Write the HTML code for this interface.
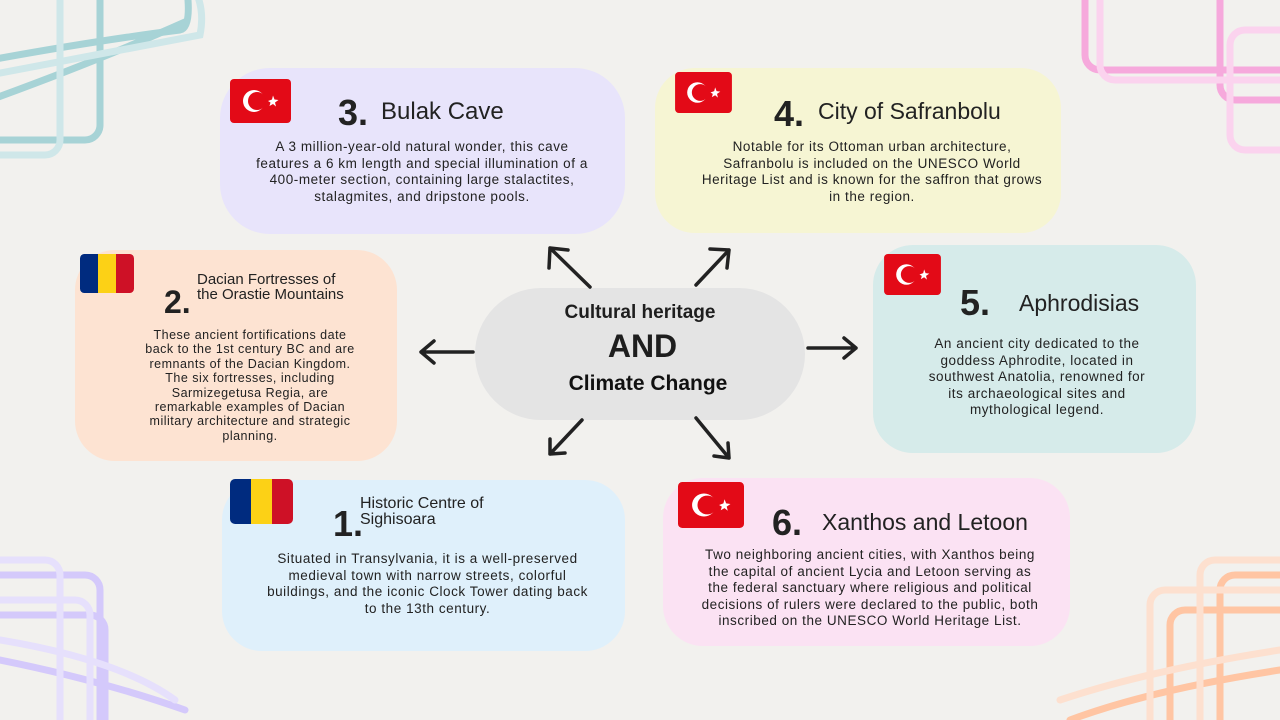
<!DOCTYPE html>
<html><head><meta charset="utf-8"><style>
*{margin:0;padding:0;box-sizing:border-box}
body{width:1280px;height:720px;overflow:hidden;background:#f2f1ee;font-family:"Liberation Sans",sans-serif;color:#222;position:relative}
.card{position:absolute;border-radius:40px}
.t{position:absolute;text-align:center;font-size:13.5px;line-height:16.6px;color:#222;white-space:nowrap;letter-spacing:0.55px}
.h{position:absolute;font-size:23px;color:#222;white-space:nowrap}
.n{position:absolute;font-size:36px;font-weight:bold;color:#222}
svg.f{position:absolute}
</style></head><body>
<svg width="1280" height="720" style="position:absolute;left:0;top:0" fill="none" stroke-linecap="round">
 <g stroke="#a7d3d6" stroke-width="7">
  <path d="M-10 60 Q100 40 180 30 Q190 28 188 0"/><path d="M-10 100 Q100 60 185 22"/>
  <rect x="-40" y="-30" width="140" height="170" rx="15"/>
 </g>
 <g stroke="#cfe7e9" stroke-width="7">
  <path d="M-10 75 Q120 50 200 35 Q205 10 195 -10"/><rect x="-30" y="-20" width="90" height="175" rx="15"/>
 </g>
 <g stroke="#f6a9dc" stroke-width="7">
  <rect x="1085" y="-30" width="230" height="100" rx="15"/><rect x="1220" y="-20" width="80" height="120" rx="15"/>
 </g>
 <g stroke="#fbd3ee" stroke-width="7">
  <rect x="1100" y="-20" width="220" height="100" rx="15"/><rect x="1230" y="30" width="80" height="120" rx="15"/>
 </g>
 <g stroke="#d4c9fb" stroke-width="7">
  <rect x="-30" y="575" width="130" height="160" rx="15"/><rect x="-30" y="615" width="135" height="130" rx="15"/>
  <path d="M0 660 Q100 680 185 710"/>
 </g>
 <g stroke="#e6e0fc" stroke-width="7">
  <rect x="-20" y="560" width="80" height="180" rx="15"/><path d="M0 640 Q120 660 175 700"/><rect x="-30" y="600" width="120" height="140" rx="15"/>
 </g>
 <g stroke="#ffc5a3" stroke-width="7">
  <rect x="1220" y="575" width="90" height="160" rx="15"/><rect x="1170" y="610" width="140" height="130" rx="15"/>
  <path d="M1070 720 Q1150 690 1280 670"/>
 </g>
 <g stroke="#fde0cf" stroke-width="7">
  <rect x="1200" y="560" width="100" height="180" rx="15"/><rect x="1150" y="590" width="150" height="150" rx="15"/><path d="M1060 700 Q1150 670 1280 650"/>
 </g>
</svg>

<div class="card" style="left:220px;top:68px;width:405px;height:166px;background:#e8e4fb;border-radius:50px"></div>
<div class="card" style="left:655px;top:68px;width:406px;height:165px;background:#f6f5d3"></div>
<div class="card" style="left:75px;top:250px;width:322px;height:211px;background:#fde3d2"></div>
<div class="card" style="left:873px;top:245px;width:323px;height:208px;background:#d6ebea"></div>
<div class="card" style="left:222px;top:480px;width:403px;height:171px;background:#dff0fb"></div>
<div class="card" style="left:663px;top:478px;width:407px;height:168px;background:#fbe2f3"></div>

<div style="position:absolute;left:475px;top:288px;width:330px;height:132px;background:#e4e4e4;border-radius:66px"></div>
<div style="position:absolute;left:475px;top:302px;width:330px;text-align:center;font-weight:bold;font-size:19px;color:#1e1e1e">Cultural heritage</div>
<div style="position:absolute;left:475px;top:328px;width:335px;text-align:center;font-weight:bold;font-size:32px;color:#1e1e1e">AND</div>
<div style="position:absolute;left:483px;top:372px;width:330px;text-align:center;font-weight:bold;font-size:21px;color:#111">Climate Change</div>

<svg width="1280" height="720" style="position:absolute;left:0;top:0" fill="none" stroke="#222" stroke-width="3.5" stroke-linecap="round" stroke-linejoin="round">
 <path d="M590 287 L550 248 M549 268 L550 248 L568 250"/>
 <path d="M696 285 L729 250 M710 249 L729 250 L727 268"/>
 <path d="M473 352 L421 352 M434 341 L421 352 L434 363"/>
 <path d="M808 348 L856 348 M844 338 L856 348 L844 358"/>
 <path d="M582 420 L550 454 M550 439 L550 454 L565 453"/>
 <path d="M696 418 L729 458 M728 443 L729 458 L714 456"/>
</svg>

<svg class="f" style="left:230px;top:79px" width="61" height="44" viewBox="0 0 61 44"><rect width="61" height="44" rx="4" fill="#e30a17"/><circle cx="24" cy="22" r="11" fill="#fff"/><circle cx="27" cy="22" r="9" fill="#e30a17"/><polygon points="38,22 42,20.5 43,16.5 44.5,20.5 48.5,21 45,23.5 46,27.5 43,25 39.5,27 40.5,23.5" fill="#fff"/></svg>
<svg class="f" style="left:675px;top:72px" width="57" height="41" viewBox="0 0 61 44"><rect width="61" height="44" rx="4" fill="#e30a17"/><circle cx="24" cy="22" r="11" fill="#fff"/><circle cx="27" cy="22" r="9" fill="#e30a17"/><polygon points="38,22 42,20.5 43,16.5 44.5,20.5 48.5,21 45,23.5 46,27.5 43,25 39.5,27 40.5,23.5" fill="#fff"/></svg>
<svg class="f" style="left:884px;top:254px" width="57" height="41" viewBox="0 0 61 44"><rect width="61" height="44" rx="4" fill="#e30a17"/><circle cx="24" cy="22" r="11" fill="#fff"/><circle cx="27" cy="22" r="9" fill="#e30a17"/><polygon points="38,22 42,20.5 43,16.5 44.5,20.5 48.5,21 45,23.5 46,27.5 43,25 39.5,27 40.5,23.5" fill="#fff"/></svg>
<svg class="f" style="left:678px;top:482px" width="66" height="46" viewBox="0 0 61 44" preserveAspectRatio="none"><rect width="61" height="44" rx="4" fill="#e30a17"/><circle cx="24" cy="22" r="11" fill="#fff"/><circle cx="27" cy="22" r="9" fill="#e30a17"/><polygon points="38,22 42,20.5 43,16.5 44.5,20.5 48.5,21 45,23.5 46,27.5 43,25 39.5,27 40.5,23.5" fill="#fff"/></svg>
<svg class="f" style="left:80px;top:254px" width="54" height="39" viewBox="0 0 63 45" preserveAspectRatio="none"><clipPath id="c1"><rect width="63" height="45" rx="5"/></clipPath><g clip-path="url(#c1)"><rect width="21" height="45" fill="#002b7f"/><rect x="21" width="21" height="45" fill="#fcd116"/><rect x="42" width="21" height="45" fill="#ce1126"/></g></svg>
<svg class="f" style="left:230px;top:479px" width="63" height="45" viewBox="0 0 63 45"><clipPath id="c2"><rect width="63" height="45" rx="5"/></clipPath><g clip-path="url(#c2)"><rect width="21" height="45" fill="#002b7f"/><rect x="21" width="21" height="45" fill="#fcd116"/><rect x="42" width="21" height="45" fill="#ce1126"/></g></svg>

<div class="n" style="left:338px;top:92px">3.</div>
<div class="h" style="left:381px;top:98px;font-size:24px">Bulak Cave</div>
<div class="t" style="left:232px;top:139px;width:380px">A 3 million-year-old natural wonder, this cave<br>features a 6 km length and special illumination of a<br>400-meter section, containing large stalactites,<br>stalagmites, and dripstone pools.</div>

<div class="n" style="left:774px;top:93px">4.</div>
<div class="h" style="left:818px;top:98px">City of Safranbolu</div>
<div class="t" style="left:672px;top:139px;width:400px">Notable for its Ottoman urban architecture,<br>Safranbolu is included on the UNESCO World<br>Heritage List and is known for the saffron that grows<br>in the region.</div>

<div class="n" style="left:164px;top:284px;font-size:32px">2.</div>
<div class="h" style="left:197px;top:272px;font-size:15px;line-height:15px">Dacian Fortresses of<br>the Orastie Mountains</div>
<div class="t" style="left:100px;top:328px;width:300px;font-size:12.5px;line-height:14.4px;letter-spacing:0.5px">These ancient fortifications date<br>back to the 1st century BC and are<br>remnants of the Dacian Kingdom.<br>The six fortresses, including<br>Sarmizegetusa Regia, are<br>remarkable examples of Dacian<br>military architecture and strategic<br>planning.</div>

<div class="n" style="left:960px;top:282px">5.</div>
<div class="h" style="left:1019px;top:290px">Aphrodisias</div>
<div class="t" style="left:887px;top:336px;width:300px">An ancient city dedicated to the<br>goddess Aphrodite, located in<br>southwest Anatolia, renowned for<br>its archaeological sites and<br>mythological legend.</div>

<div class="n" style="left:333px;top:503px">1.</div>
<div class="h" style="left:360px;top:496px;font-size:16px;line-height:16px">Historic Centre of<br>Sighisoara</div>
<div class="t" style="left:235px;top:551px;width:385px">Situated in Transylvania, it is a well-preserved<br>medieval town with narrow streets, colorful<br>buildings, and the iconic Clock Tower dating back<br>to the 13th century.</div>

<div class="n" style="left:772px;top:502px">6.</div>
<div class="h" style="left:822px;top:509px">Xanthos and Letoon</div>
<div class="t" style="left:670px;top:547px;width:400px">Two neighboring ancient cities, with Xanthos being<br>the capital of ancient Lycia and Letoon serving as<br>the federal sanctuary where religious and political<br>decisions of rulers were declared to the public, both<br>inscribed on the UNESCO World Heritage List.</div>
</body></html>
